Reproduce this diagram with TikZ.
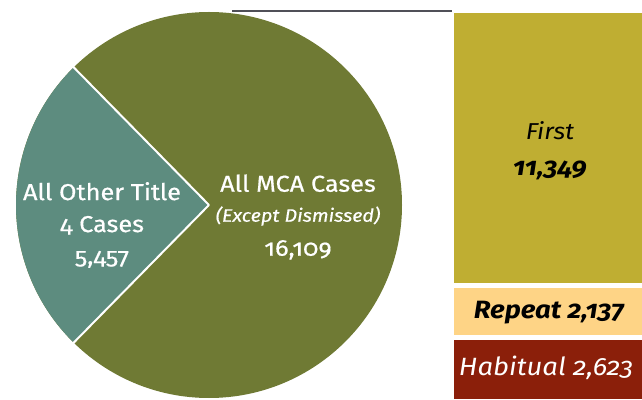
\documentclass[tikz,border=0pt]{standalone}
\usepackage{fontspec}
\setmainfont[Numbers=OldStyle,FakeStretch=1.1]{Fira Sans}
\definecolor{mcaolive}{HTML}{6F7A34}
\definecolor{otherteal}{HTML}{5D8C7F}
\definecolor{firstgold}{HTML}{BFAE32}
\definecolor{repeatsand}{HTML}{FED486}
\definecolor{habitred}{HTML}{8B1F0A}
\definecolor{rulegray}{HTML}{505058}
\tikzset{
  pielbl/.style={text=white,align=center,font=\fontsize{23}{32}\selectfont\addfontfeatures{FakeBold=0.6}},
  barlbl/.style={align=center,font=\fontsize{23}{36}\selectfont\itshape},
}
\begin{document}
\begin{tikzpicture}[x=1pt,y=1pt]
			\useasboundingbox (0,0) rectangle (642,399);
			% pie
			\fill[mcaolive] (209,194) circle (193);
			\fill[otherteal] (209,194) -- ++(134.5:193) arc (134.5:225.5:193) -- cycle;
			\draw[white,line width=2] (209,194) -- ++(134.5:194);
			\draw[white,line width=2] (209,194) -- ++(225.5:194);
			\node[pielbl] (other) at (102,174) {All Other Title\\4 Cases\\5,457};
			\node[pielbl] (mca) at (298,182) {All MCA Cases\\[-2pt]{\fontsize{18}{20}\selectfont\itshape (Except Dismissed)}\\[2pt]16,109};
			% top rule
			\draw[rulegray,line width=1.5] (232,388) -- (452,388);
			% bars
			\fill[firstgold] (454,116) rectangle (642,386);
			\fill[repeatsand] (454,64) rectangle (642,111);
			\fill[habitred] (454,0) rectangle (642,59);
			\node[barlbl] (first) at (550,248) {First\\\fontsize{25}{36}\selectfont\bfseries 11,349};
			\node[barlbl,font=\fontsize{25}{26}\selectfont\itshape\bfseries] (repeat) at (549,86) {Repeat 2,137};
			\node[barlbl,font=\fontsize{25}{26}\selectfont\itshape,text=white] (habit) at (546,31) {Habitual 2,623};
\end{tikzpicture}
\end{document}
